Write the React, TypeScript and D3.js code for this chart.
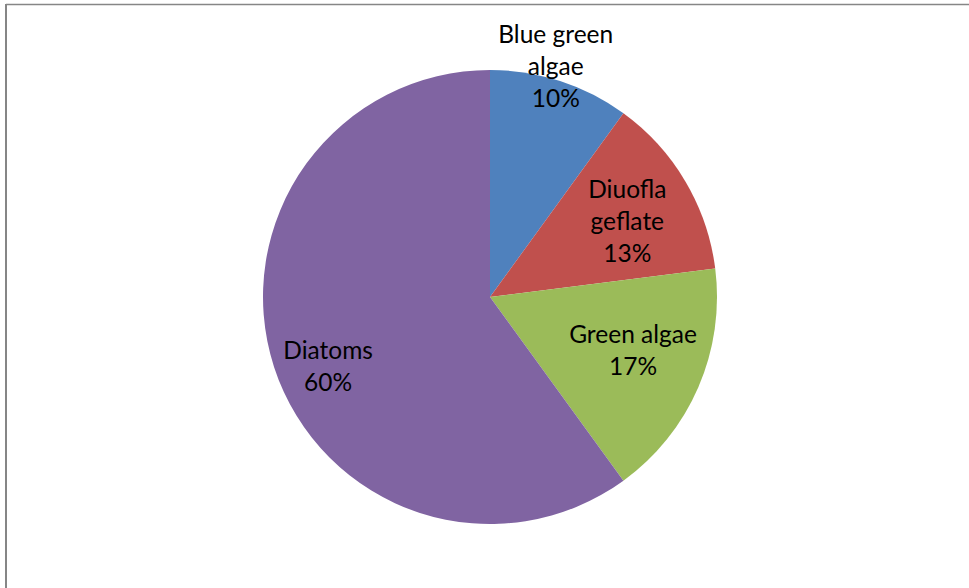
import React from "react";
import * as d3 from "d3";

const categories = ["Blue green algae", "Diuofla geflate", "Green algae", "Diatoms"];
const values = [10, 13, 17, 60];
const labelLines = [["Blue green", "algae", "10%"], ["Diuofla", "geflate", "13%"], ["Green algae", "17%"], ["Diatoms", "60%"]];
const colors = ["#4f81bd", "#c0504d", "#9bbb59", "#8064a2"];

// label anchor: [angle in degrees clockwise from top, distance from centre]
const labelPlacement: [number, number][] = [[15.9, 240], [61, 157], [110.5, 152.7], [246.9, 176]];

export default function App() {
  const W = 969, H = 588;
  const cx = 490, cy = 297, r = 227;
  const pie = d3.pie<number>().sort(null).value((d) => d);
  const arcs = pie(values);
  const arc = d3.arc<d3.PieArcDatum<number>>().innerRadius(0).outerRadius(r);
  const lineH = 32;
  return (
    <svg width={W} height={H} style={{ position: "absolute", left: 0, top: 0 }}>
      <rect x={0} y={0} width={W} height={H} fill="#fff" />
      <line x1={6} y1={4.5} x2={W} y2={4.5} stroke="#868686" strokeWidth={1.5} />
      <line x1={6} y1={4} x2={6} y2={H} stroke="#868686" strokeWidth={2} />
      <g transform={`translate(${cx},${cy})`}>
        {arcs.map((a, i) => (
          <path key={categories[i]} d={arc(a) || ""} fill={colors[i]} />
        ))}
        {arcs.map((a, i) => {
          const [ang, dist] = labelPlacement[i];
          const rad = (ang * Math.PI) / 180;
          const x = dist * Math.sin(rad);
          const y = -dist * Math.cos(rad);
          const lines = labelLines[i];
          const y0 = y - ((lines.length - 1) * lineH) / 2;
          return (
            <text key={"l" + i} textAnchor="middle" fontFamily="Lato, 'Open Sans', sans-serif" fontSize={24.5} fill="#000">
              {lines.map((t, j) => (
                <tspan key={j} x={x} y={y0 + j * lineH} dy="0.36em">{t}</tspan>
              ))}
            </text>
          );
        })}
      </g>
    </svg>
  );
}
